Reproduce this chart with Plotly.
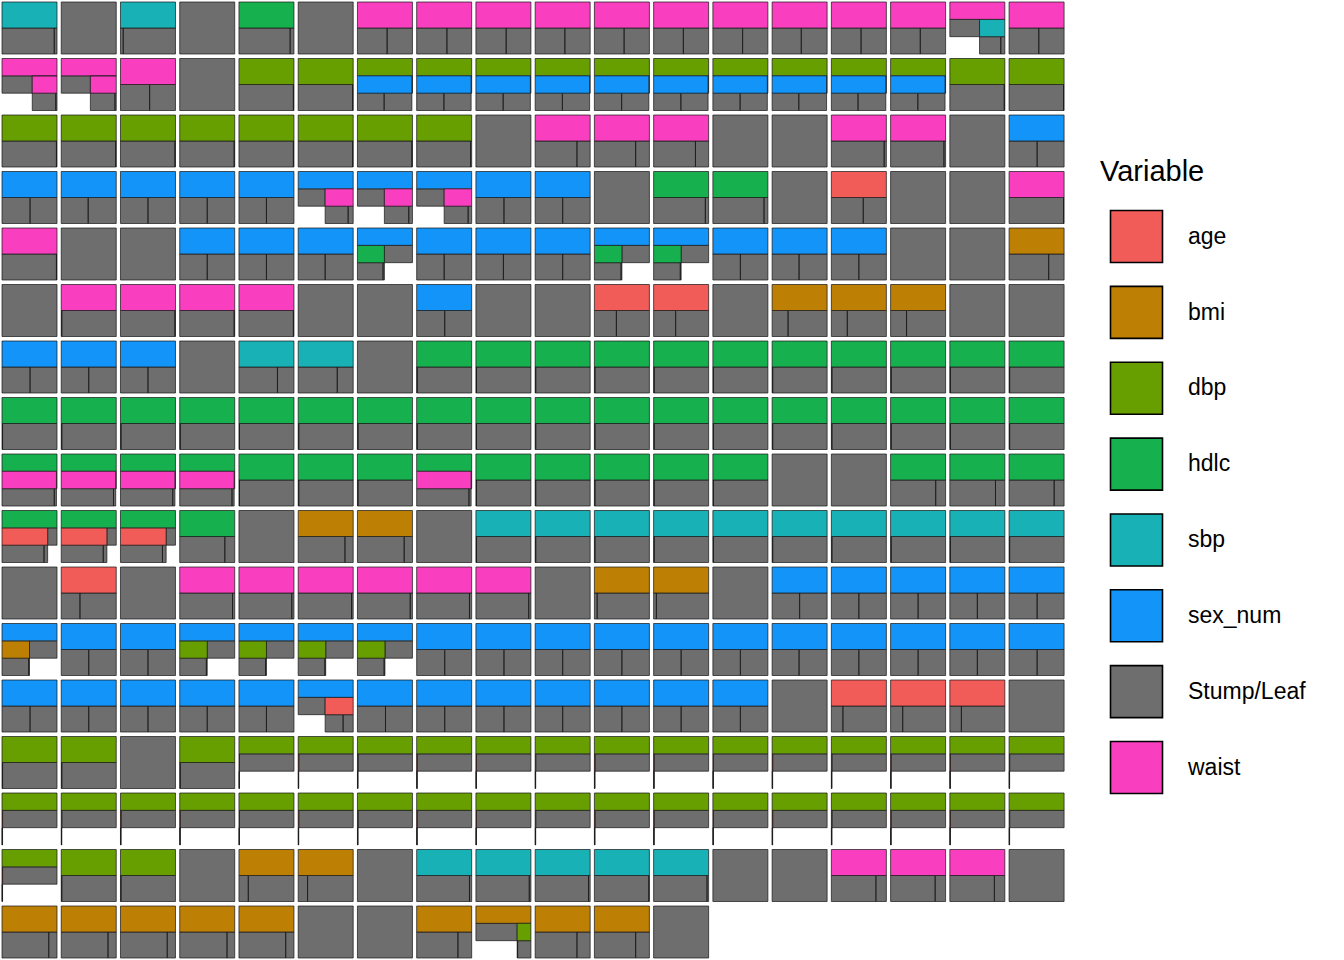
import plotly.graph_objects as go

# ---------------- data ----------------
# Each tree: "L" = leaf; "<v><frac>" = split on variable v, left child gets
# fraction frac of the parent's width; optional "(left,right)" subtrees.
VAR_CODES = {"a": "age", "b": "bmi", "d": "dbp", "h": "hdlc",
             "s": "sbp", "x": "sex_num", "w": "waist"}
LEGEND_ORDER = ["age", "bmi", "dbp", "hdlc", "sbp", "sex_num", "Stump/Leaf", "waist"]
COLORS = {"age": "#F15C59", "bmi": "#BE7F05", "dbp": "#679F00", "hdlc": "#17B04F",
          "sbp": "#18B1B6", "sex_num": "#1294F8", "Stump/Leaf": "#6E6E6E",
          "waist": "#F93FBF"}

row00 = ["s.95", "L", "s.05", "L", "h.93", "L", "w.54", "w.55", "w.55", "w.54", "w.54",
         "w.54", "w.54", "w.53", "w.54", "w.54", "w.54(L,s.84)", "w.54"]
row01 = ["w.55(L,w.95)", "w.53(L,w.95)", "w.53", "L", "d.99", "d.99",
         "d.99(x.49,L)", "d.99(x.5,L)", "d.99(x.5,L)", "d.99(x.5,L)", "d.99(x.5,L)",
         "d.99(x.5,L)", "d.99(x.5,L)", "d.99(x.49,L)", "d.99(x.49,L)", "d.99(x.5,L)",
         "d.99", "d.99"]
row02 = ["d.99", "d.99", "d.99", "d.99", "d.99", "d.99", "d.99", "d.98", "L", "w.76",
         "w.75", "w.76", "L", "L", "w.96", "w.97", "L", "x.51"]
row03 = ["x.51", "x.49", "x.5", "x.5", "x.5", "x.49(L,w.82)", "x.49(L,w.87)",
         "x.5(L,w.87)", "x.51", "x.5", "L", "h.94", "h.93", "L", "a.58", "L", "L", "w.99"]
row04 = ["w.99", "L", "L", "x.5", "x.5", "x.49", "x.49(h.95,L)", "x.5", "x.5", "x.5",
         "x.5(h.97,L)", "x.5(h.97,L)", "x.5", "x.49", "x.5", "L", "L", "b.72"]
row05 = ["L", "w.01", "w.99", "w.99", "w.99", "L", "L", "x.51", "L", "L", "a.4", "a.4",
         "L", "b.29", "b.29", "b.29", "L", "L"]
row06 = ["x.51", "x.5", "x.5", "L", "s.7", "s.71", "L", "h.01", "h.01", "h.01", "h.01",
         "h.01", "h.01", "h.01", "h.01", "h.01", "h.01", "h.01"]
row07 = ["h.01", "h.01", "h.01", "h.01", "h.01", "h.01", "h.01", "h.01", "h.01", "h.01",
         "h.01", "h.01", "h.01", "h.01", "h.01", "h.01", "h.01", "h.01"]
row08 = ["h.99(w.96,L)", "h.99(w.96,L)", "h.99(w.96,L)", "h.99(w.96,L)", "h.01", "h.01",
         "h.01", "h.99(w.96,L)", "h.01", "h.01", "h.01", "h.01", "h.01", "L", "L",
         "h.82", "h.83", "h.82"]
row09 = ["h.83(a.92,L)", "h.83(a.92,L)", "h.83(a.92,L)", "h.82", "L", "b.85", "b.85", "L",
         "s.01", "s.01", "s.01", "s.01", "s.01", "s.01", "s.01", "s.01", "s.01", "s.01"]
row10 = ["L", "a.34", "L", "w.96", "w.96", "w.97", "w.96", "w.96", "w.96", "L", "b.05",
         "b.05", "L", "x.5", "x.5", "x.5", "x.5", "x.51"]
row11 = ["x.5(b.97,L)", "x.5", "x.5", "x.5(d.97,L)", "x.5(d.97,L)", "x.5(d.97,L)",
         "x.5(d.97,L)", "x.51", "x.51", "x.5", "x.5", "x.5", "x.5", "x.49", "x.5",
         "x.5", "x.5", "x.51"]
row12 = ["x.51", "x.5", "x.5", "x.5", "x.5", "x.49(L,a.64)", "x.51", "x.51", "x.51",
         "x.5", "x.5", "x.5", "x.5", "L", "a.21", "a.22", "a.21", "L"]
row13 = ["d.01", "d.01", "L", "d.01", "d.01(a.5,L)", "d.01(a.5,L)", "d.01(a.5,L)",
         "d.01(a.5,L)", "d.01(a.5,L)", "d.01(a.5,L)", "d.01(a.5,L)", "d.01(a.5,L)",
         "d.01(a.5,L)", "d.01(a.5,L)", "d.01(a.5,L)", "d.01(a.5,L)", "d.01(a.5,L)",
         "d.01(a.5,L)"]
row14 = ["d.01(a.5,L)"] * 18
row15 = ["d.01(a.5,L)", "d.01", "d.01", "L", "b.17", "b.17", "L", "s.96", "s.97", "s.97",
         "s.99", "s.97", "L", "L", "w.81", "w.81", "w.81", "L"]
row16 = ["b.85", "b.85", "b.85", "b.86", "b.85", "L", "L", "b.75", "b.75(L,d.03)",
         "b.76", "b.75", "L"]

ROWS = [row00, row01, row02, row03, row04, row05, row06, row07, row08, row09,
        row10, row11, row12, row13, row14, row15, row16]

# ---------------- layout constants ----------------
N_COLS = 18
CELL_W, CELL_H = 55.0, 52.0
PITCH_X, PITCH_Y = 59.24, 56.5
X0, Y0 = 2.0, 2.0


def parse(s, i=0):
    c = s[i]
    if c == "L":
        return ("L",), i + 1
    var = VAR_CODES[c]
    i += 1
    j = i
    while j < len(s) and s[j] in "0123456789.":
        j += 1
    frac = float(s[i:j])
    i = j
    if i < len(s) and s[i] == "(":
        left, i = parse(s, i + 1)
        assert s[i] == ","
        right, i = parse(s, i + 1)
        assert s[i] == ")"
        i += 1
    else:
        left, right = ("L",), ("L",)
    return (var, frac, left, right), i


def depth(node):
    if node[0] == "L":
        return 0
    return 1 + max(depth(node[2]), depth(node[3]))


def place(node, x, w, level, out):
    if node[0] == "L":
        out.append(("Stump/Leaf", x, w, level))
        return
    var, frac, left, right = node
    out.append((var, x, w, level))
    lw = w * frac
    place(left, x, lw, level + 1, out)
    place(right, x + lw, w - lw, level + 1, out)


paths = {v: ([], []) for v in LEGEND_ORDER}
for r, row in enumerate(ROWS):
    for c, spec in enumerate(row):
        tree, _ = parse(spec)
        nlev = depth(tree) + 1
        lh = CELL_H / nlev
        cx = X0 + c * PITCH_X
        cy = Y0 + r * PITCH_Y
        nodes = []
        place(tree, 0.0, 1.0, 0, nodes)
        for var, x, w, lev in nodes:
            x0 = cx + x * CELL_W
            x1 = cx + (x + w) * CELL_W
            y0 = cy + lev * lh
            y1 = y0 + lh
            xs, ys = paths[var]
            xs += [x0, x1, x1, x0, x0, None]
            ys += [y0, y0, y1, y1, y0, None]

fig = go.Figure()
draw_order = ["Stump/Leaf"] + [v for v in LEGEND_ORDER if v != "Stump/Leaf"]
for v in draw_order:
    xs, ys = paths[v]
    if not xs:
        continue
    fig.add_trace(go.Scatter(
        x=xs, y=ys, mode="lines", fill="toself", fillcolor=COLORS[v],
        line=dict(color="rgba(25,25,25,0.8)", width=0.9),
        hoverinfo="skip", showlegend=False, name=v))

# ---------------- legend (drawn on the same axes) ----------------
LEG_X = 1136.5
LEG_Y0 = 236.5
LEG_DY = 75.86
leg_y = [LEG_Y0 + i * LEG_DY for i in range(len(LEGEND_ORDER))]
fig.add_trace(go.Scatter(
    x=[LEG_X] * len(LEGEND_ORDER), y=leg_y, mode="markers",
    marker=dict(symbol="square", size=52, color=[COLORS[v] for v in LEGEND_ORDER],
                line=dict(color="black", width=1.6)),
    hoverinfo="skip", showlegend=False))
fig.add_trace(go.Scatter(
    x=[1188] * len(LEGEND_ORDER), y=[v + 1.5 for v in leg_y], mode="text",
    text=LEGEND_ORDER, textposition="middle right",
    textfont=dict(family="Liberation Sans, Arial, sans-serif", size=23, color="black"),
    hoverinfo="skip", showlegend=False))
fig.add_annotation(x=1098, y=171, xref="x", yref="y", text="Variable", showarrow=False,
                   xanchor="left", yanchor="middle",
                   font=dict(family="Liberation Sans, Arial, sans-serif", size=29,
                             color="black"))

fig.update_layout(
    width=1344, height=960, margin=dict(l=0, r=0, t=0, b=0),
    paper_bgcolor="white", plot_bgcolor="white",
    xaxis=dict(range=[0, 1344], visible=False, fixedrange=True),
    yaxis=dict(range=[960, 0], visible=False, fixedrange=True),
)
fig.write_html("out.html")
